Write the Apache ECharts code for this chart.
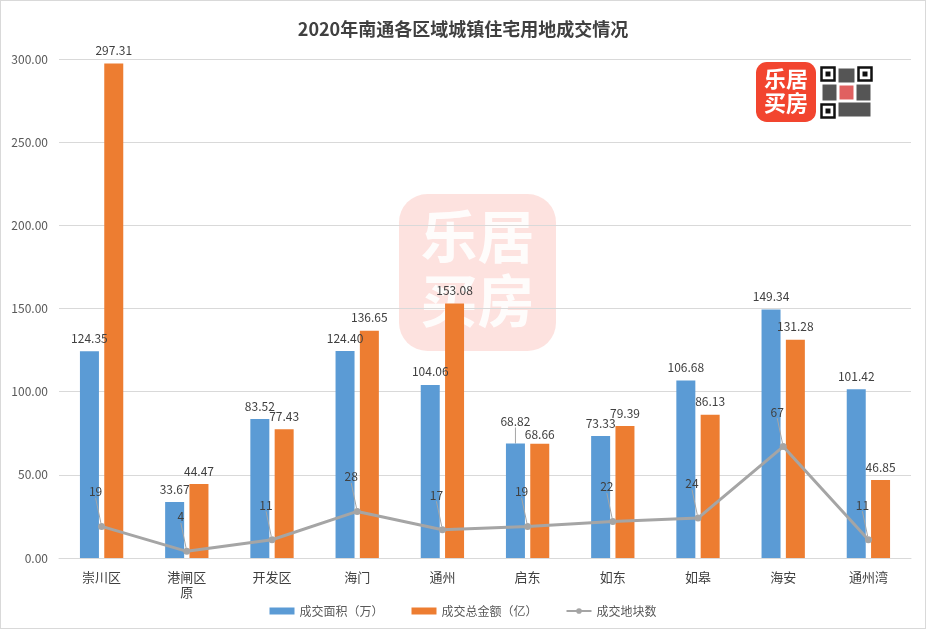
<!DOCTYPE html>
<html><head><meta charset="utf-8">
<script src="https://cdn.jsdelivr.net/npm/echarts@6/dist/echarts.min.js"></script>
<style>html,body{margin:0;padding:0;background:#fff}#c{width:924px;height:627px;border:1px solid #d9d9d9}</style>
</head><body><div id="c"></div>
<script>
var categories = ['崇川区','港闸区\n原','开发区','海门','通州','启东','如东','如皋','海安','通州湾'];
var areaValues = [124.35,33.67,83.52,124.40,104.06,68.82,73.33,106.68,149.34,101.42];
var amountValues = [297.31,44.47,77.43,136.65,153.08,68.66,79.39,86.13,131.28,46.85];
var plotCounts = [19,4,11,28,17,19,22,24,67,11];
var seriesNames = ['成交面积（万）','成交总金额（亿）','成交地块数'];
var titleText = '2020年南通各区域城镇住宅用地成交情况';

var FONT = '"Noto Sans CJK SC", "Microsoft YaHei", sans-serif';
var chart = echarts.init(document.getElementById('c'));
function logo(x, y, s, fill, opacity, textColor){
  return {type:'group', left:x, top:y, silent:true, z:100, children:[
    {type:'rect', shape:{x:0,y:0,width:s,height:s,r:s*0.18}, style:{fill:fill, opacity:opacity}},
    {type:'text', style:{x:s/2,y:s*0.27,text:'乐居',fill:textColor,font:'bold '+Math.round(s*0.36)+'px '+FONT,textAlign:'center',textVerticalAlign:'middle',opacity:opacity>0.5?1:0.9}},
    {type:'text', style:{x:s/2,y:s*0.68,text:'买房',fill:textColor,font:'bold '+Math.round(s*0.36)+'px '+FONT,textAlign:'center',textVerticalAlign:'middle',opacity:opacity>0.5?1:0.9}}
  ]};
}
var qr = {type:'group', left:818, top:64, silent:true, z:100, children:[
  {type:'rect', shape:{x:1,y:1,width:13,height:13}, style:{fill:'none', stroke:'#111', lineWidth:2.5}},
  {type:'rect', shape:{x:38,y:1,width:13,height:13}, style:{fill:'none', stroke:'#111', lineWidth:2.5}},
  {type:'rect', shape:{x:1,y:38,width:13,height:13}, style:{fill:'none', stroke:'#111', lineWidth:2.5}},
  {type:'rect', shape:{x:5,y:5,width:5,height:5}, style:{fill:'#111'}},
  {type:'rect', shape:{x:42,y:5,width:5,height:5}, style:{fill:'#111'}},
  {type:'rect', shape:{x:5,y:42,width:5,height:5}, style:{fill:'#111'}},
  {type:'rect', shape:{x:18,y:2,width:16,height:14}, style:{fill:'#555'}},
  {type:'rect', shape:{x:2,y:18,width:14,height:16}, style:{fill:'#555'}},
  {type:'rect', shape:{x:36,y:18,width:14,height:16}, style:{fill:'#555'}},
  {type:'rect', shape:{x:18,y:36,width:32,height:14}, style:{fill:'#555'}},
  {type:'rect', shape:{x:19,y:19,width:14,height:14}, style:{fill:'#e06060'}}
]};
var fmt2 = function(p){return p.value.toFixed(2);};
var areaData = areaValues.map(function(v,i){
  return i === 5 ? {value:v, labelLine:{show:true, lineStyle:{color:'#a5a5a5', width:1}}} : v;
});
var amountData = amountValues.map(function(v,i){
  return i === 5 ? {value:v, label:{distance:3}} : v;
});
chart.setOption({
  textStyle:{fontFamily:FONT},
  title:{text:titleText, left:'center', top:14, textStyle:{fontSize:18, fontWeight:'bold', color:'#404040', fontFamily:FONT}},
  grid:{left:58, right:14, top:58, bottom:70, containLabel:false},
  legend:{bottom:6, left:'center', itemWidth:25, itemHeight:7, itemGap:28, textStyle:{fontSize:12,color:'#595959'},
    data:[{name:seriesNames[0], icon:'rect'},{name:seriesNames[1], icon:'rect'},{name:seriesNames[2]}]},
  xAxis:{type:'category', data:categories, axisTick:{show:false}, axisLine:{lineStyle:{color:'#d9d9d9'}},
    axisLabel:{color:'#404040', fontSize:13, margin:12, lineHeight:15, interval:0}},
  yAxis:{type:'value', min:0, max:300, interval:50, axisLine:{show:false}, axisTick:{show:false},
    splitLine:{lineStyle:{color:'#d9d9d9'}},
    axisLabel:{color:'#595959', fontSize:12, margin:11, formatter:function(v){return v.toFixed(2);}}},
  series:[
    {name:seriesNames[0], type:'bar', data:areaData, barWidth:19, barGap:'28%', itemStyle:{color:'#5b9bd5'},
      label:{show:true, position:'top', distance:7, color:'#404040', fontSize:12, formatter:fmt2},
      labelLayout:function(p){ return p.dataIndex === 5 ? {dy:-9} : {}; }},
    {name:seriesNames[1], type:'bar', data:amountData, barWidth:19, itemStyle:{color:'#ed7d31'},
      label:{show:true, position:'top', distance:7, color:'#404040', fontSize:12, formatter:fmt2}},
    {name:seriesNames[2], type:'line', data:plotCounts, symbol:'circle', symbolSize:7, z:5,
      itemStyle:{color:'#a5a5a5'}, lineStyle:{color:'#a5a5a5', width:3},
      label:{show:true, position:'top', color:'#404040', fontSize:12},
      labelLayout:{dx:-6, dy:-20},
      labelLine:{show:true, lineStyle:{color:'#a5a5a5', width:1}}}
  ],
  graphic:[
    logo(398, 193, 157, '#f04b3a', 0.16, '#ffffff'),
    logo(755, 61, 60, '#f2452f', 1, '#ffffff'),
    qr
  ]
});
</script></body></html>
